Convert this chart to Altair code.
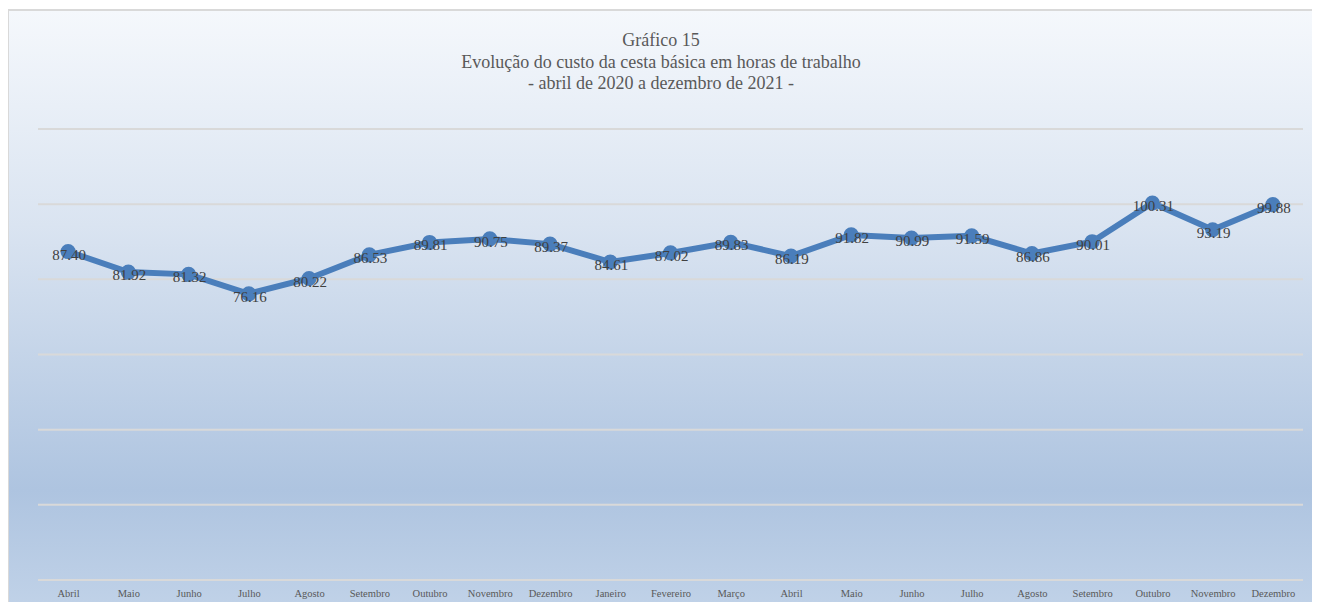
import altair as alt
import pandas as pd

months = ["Abril", "Maio", "Junho", "Julho", "Agosto", "Setembro", "Outubro",
          "Novembro", "Dezembro", "Janeiro", "Fevereiro", "Março", "Abril", "Maio",
          "Junho", "Julho", "Agosto", "Setembro", "Outubro", "Novembro", "Dezembro"]
values = [87.40, 81.92, 81.32, 76.16, 80.22, 86.53, 89.81, 90.75, 89.37, 84.61,
          87.02, 89.83, 86.19, 91.82, 90.99, 91.59, 86.86, 90.01, 100.31, 93.19, 99.88]
grid_values = [0, 20, 40, 60, 80, 100, 120]
title_lines = ["Gráfico 15",
               "Evolução do custo da cesta básica em horas de trabalho",
               "- abril de 2020 a dezembro de 2021 -"]

W, H = 1265, 451
FONT = "Liberation Serif"
BLUE = "#4a7ebb"

df = pd.DataFrame({"idx": list(range(len(months))), "mes": months, "valor": values})
grid_df = pd.DataFrame({"g": grid_values})

label_expr = "[" + ",".join("'" + m + "'" for m in months) + "][datum.value]"

yscale = alt.Scale(domain=[0, 120], nice=False, zero=True)
xenc = alt.X("idx:O", scale=alt.Scale(type="point", padding=0.5),
             axis=alt.Axis(title=None, labelExpr=label_expr, labelAngle=0,
                           labelFont=FONT, labelFontSize=10.5, labelColor="#595959",
                           ticks=False, domain=False, labelPadding=8, zindex=1,
                           grid=False))

gradient = alt.LinearGradient(
    gradient="linear", x1=0, y1=0, x2=0, y2=1,
    stops=[alt.GradientStop(color="#f5f8fc", offset=0),
           alt.GradientStop(color="#dae4f1", offset=0.35),
           alt.GradientStop(color="#aec4e0", offset=0.78),
           alt.GradientStop(color="#c3d4e9", offset=1)])

bg = alt.Chart(alt.Data(values=[{}])).mark_rect(
    color=gradient, stroke="#d9d9d9", strokeWidth=2
).encode(x=alt.value(-30), x2=alt.value(W + 40), y=alt.value(-119), y2=alt.value(H + 45))

title = alt.Chart(alt.Data(values=[{"t": "\n".join(title_lines)}])).mark_text(
    font=FONT, fontSize=18, color="#595959", lineHeight=21.5, lineBreak="\n",
    align="center", baseline="top"
).encode(text="t:N", x=alt.value(623), y=alt.value(-97))

grid = alt.Chart(grid_df).mark_rule(color="#d9d9d9", strokeWidth=2).encode(
    y=alt.Y("g:Q", scale=yscale, axis=None),
    x=alt.value(0), x2=alt.value(W))

base = alt.Chart(df).encode(x=xenc, y=alt.Y("valor:Q", scale=yscale, axis=None))

line = base.mark_line(color=BLUE, strokeWidth=6)
pts = base.mark_point(filled=True, color=BLUE, size=230, opacity=1)
txt = base.mark_text(font=FONT, fontSize=15, color="#404040", baseline="middle", dy=3, dx=1).encode(
    text=alt.Text("valor:Q", format=".2f"))

chart = alt.layer(bg, title, grid, line, pts, txt).properties(
    width=W, height=H,
    autosize=alt.AutoSizeParams(type="none"),
    padding={"left": 30, "top": 121, "right": 9, "bottom": 22},
).configure_view(stroke=None).configure(background="white")

chart.save("out.html", embed_options={"renderer": "svg", "actions": False})
